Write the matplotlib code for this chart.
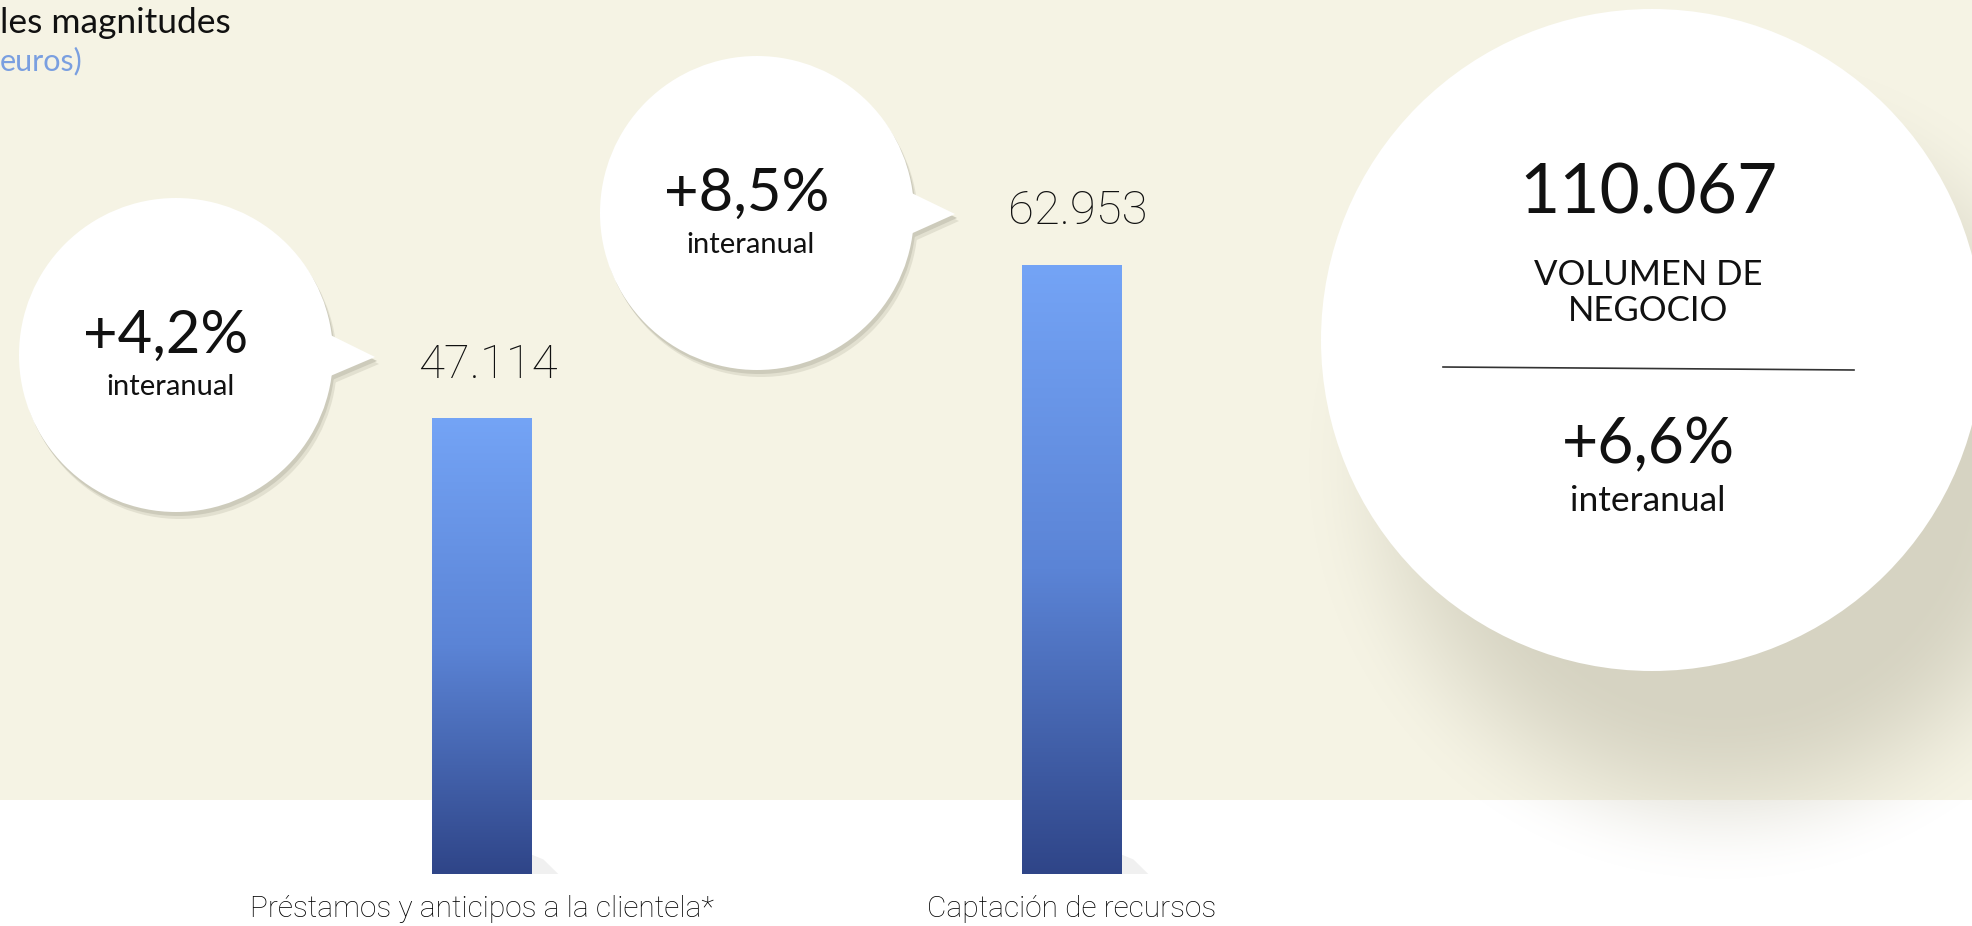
import numpy as np
import matplotlib.pyplot as plt
from matplotlib.patches import Circle, Polygon, Rectangle
from matplotlib.colors import LinearSegmentedColormap

plt.rcParams['font.family'] = ['Lato', 'DejaVu Sans']

# chart data
categories = ['Préstamos y anticipos a la clientela*', 'Captación de recursos']
values = [47114, 62953]
value_labels = ['47.114', '62.953']
growth = ['+4,2%', '+8,5%']
total_label = '110.067'
total_name = 'VOLUMEN DE\nNEGOCIO'
total_growth = '+6,6%'

W, H = 1972, 926
fig = plt.figure(figsize=(W / 100, H / 100), dpi=100, facecolor='white')

# background layer in pixel coords (y down)
bg = fig.add_axes([0, 0, 1, 1])
bg.axis('off')
bg.add_patch(Rectangle((0, 0), W, 800, color='#f5f3e4', lw=0, zorder=0))

# soft shadow of the big circle
yy, xx = np.mgrid[0:H, 0:W]
d = np.hypot(xx - 1722, yy - 465)
t = np.clip((331 + 90 - d) / 180, 0, 1)
img = np.zeros((H, W, 4))
img[..., :3] = (0.80, 0.79, 0.72)
img[..., 3] = t * t * (3 - 2 * t) * 0.75
bg.imshow(img, extent=(0, W, H, 0), zorder=1, aspect='auto')

# big circle
bg.add_patch(Circle((1652, 340), 331, color='white', lw=0, zorder=2))
bg.plot([1443, 1854], [367, 370], color='#333333', lw=1.2, zorder=3)
bg.text(1648, 213, total_label, ha='center', va='baseline', fontsize=50, color='#111111', zorder=4)
bg.text(1648, 321, total_name, ha='center', va='baseline', fontsize=25, color='#111111',
        linespacing=1.15, zorder=4)
bg.text(1648, 463, total_growth, ha='center', va='baseline', fontsize=45, color='#111111', zorder=4)
bg.text(1648, 511, 'interanual', ha='center', va='baseline', fontsize=25.5, color='#111111', zorder=4)


def bubble(cx, cy, r, tip, pct):
    th = np.deg2rad(10)
    layers = [(4, 7, '#e2e0d0', 2), (2, 4, '#cdcbbb', 2.5), (0, 0, 'white', 3)]
    for dx, dy, col, z in layers:
        bg.add_patch(Circle((cx + dx, cy + dy), r, color=col, lw=0, zorder=z))
        bg.add_patch(Polygon([(cx + r * np.cos(th) - 15 + dx, cy - r * np.sin(th) + dy),
                              (tip[0] + dx, tip[1] + dy),
                              (cx + r * np.cos(th) - 15 + dx, cy + r * np.sin(th) + dy)],
                             color=col, lw=0, zorder=z))
    bg.text(cx - 10, cy - 2, pct, ha='center', va='baseline', fontsize=43, color='#111111', zorder=4)
    bg.text(cx - 6, cy + 40, 'interanual', ha='center', va='baseline', fontsize=21, color='#111111', zorder=4)


bubble(176, 355, 157, (375, 357), growth[0])
bubble(757, 213, 157, (955, 214), growth[1])

# title (cut off at left edge as in the source)
bg.text(0, 33, 'les magnitudes', ha='left', va='baseline', fontsize=25.5, color='#111111')
bg.text(0, 70, 'euros)', ha='left', va='baseline', fontsize=22, color='#7a9fe0')

bg.set_xlim(0, W)
bg.set_ylim(H, 0)

# bar layer
bx = fig.add_axes([0, 52 / H, 1, 629.2 / H])
bx.patch.set_alpha(0)
bx.axis('off')
xlim = (-482 / 590, (W - 482) / 590)
ylim = (0, 65000)
pos = np.arange(len(values))
bars = bx.bar(pos, values, width=99.4 / 590, facecolor='none', edgecolor='none', zorder=3)

cmap = LinearSegmentedColormap.from_list('bar', ['#2f4588', '#5b84d6', '#74a4f6'])
grad = np.linspace(0, 1, 256).reshape(-1, 1)
for b in bars:
    x0, w, h = b.get_x(), b.get_width(), b.get_height()
    # faint floor shadow at the foot of each bar
    bx.add_patch(Polygon([(x0 + w, 0), (x0 + w + 0.045, 0), (x0 + w + 0.02, 1500), (x0 + w, 2000)],
                         color='#f0f0f0', lw=0, zorder=2))
    im = bx.imshow(grad, extent=(x0, x0 + w, 0, h), origin='lower', aspect='auto',
                   cmap=cmap, zorder=3)
    im.set_clip_path(b)

for i, (v, lab) in enumerate(zip(values, value_labels)):
    bx.annotate(lab, (i, v), xytext=(4.5, 29), textcoords='offset points', ha='center',
                va='baseline', fontsize=34, fontfamily=['Roboto', 'DejaVu Sans'],
                fontweight='light', color='#111111')
    bx.annotate(categories[i], (i, 0), xytext=(0, -25), textcoords='offset points',
                ha='center', va='center', fontsize=21.5, fontfamily=['Roboto', 'DejaVu Sans'],
                fontweight='light', color='#000000', annotation_clip=False)

bx.set_xlim(*xlim)
bx.set_ylim(*ylim)

plt.savefig('out.png', dpi=100, facecolor='white')
